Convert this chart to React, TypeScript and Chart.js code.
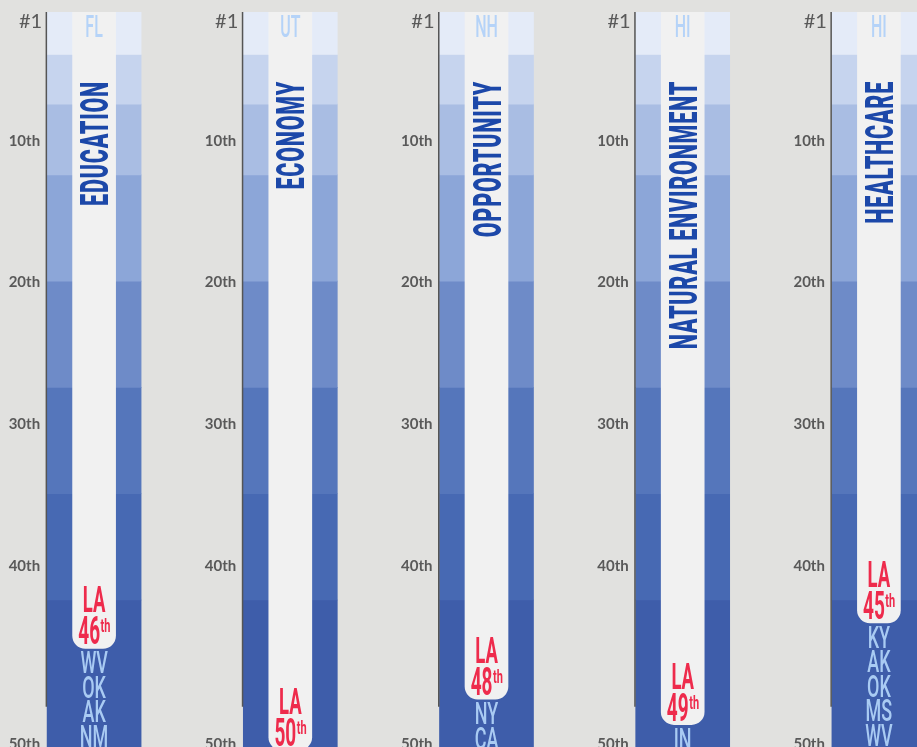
import { useEffect, useRef } from 'react';
import { Chart, registerables, LinearScale } from 'chart.js';

// ---------- data ----------
const CATEGORIES = ['EDUCATION', 'ECONOMY', 'OPPORTUNITY', 'NATURAL ENVIRONMENT', 'HEALTHCARE'];
const FOCUS_STATE = 'LA';
const LA_RANKS = [46, 50, 48, 49, 45];
const TOP_STATES = ['FL', 'UT', 'NH', 'HI', 'HI'];
const STATES_BELOW = [
  ['WV', 'OK', 'AK', 'NM'],
  [],
  ['NY', 'CA'],
  ['IN'],
  ['KY', 'AK', 'OK', 'MS', 'WV'],
];
const BAND_EDGES = [1, 4, 7.5, 12.5, 20, 27.5, 35, 42.5, 50];
const TICK_VALUES = [1, 10, 20, 30, 40, 50];
const TICK_LABELS = ['#1', '10th', '20th', '30th', '40th', '50th'];

// ---------- styles ----------
const BG = '#e1e1df';
const BAND_COLORS = ['#e4ebf8', '#c6d4ee', '#a9bde3', '#8ca6d8', '#6e8bc8', '#5576bb', '#4769b3', '#3e5daa'];
const BAR_COLOR = '#f1f1f1';
const TITLE_COLOR = '#1c48a9';
const RED = '#ee2b4c';
const TOP_STATE_COLOR = '#b5d3f8';
const BELOW_COLOR = '#a9cbf3';
const AXIS_COLOR = '#555555';
const TICK_COLOR = '#595959';
const COL_W = 94;
const BAR_W = 43;
const AXIS_END = 48.3;
const VIEW_H = 747;
const FF = 'Roboto, "Noto Sans", sans-serif';

// rank scale: piecewise-linear mapping (value -> fraction of plot height)
const RANK_SCALE_KNOTS: [number, number][] = [
  [1, 0],
  [42.5, 0.7967],
  [45, 0.8279],
  [50, 1],
];

class RankScale extends LinearScale {
  static id = 'rank';
  static defaults = {};
  getPixelForValue(value: any) {
    const v = +value;
    const k = RANK_SCALE_KNOTS;
    let i = 0;
    while (i < k.length - 2 && v > k[i + 1][0]) i++;
    const [v0, f0] = k[i];
    const [v1, f1] = k[i + 1];
    const f = f0 + ((v - v0) * (f1 - f0)) / (v1 - v0);
    return this.top + f * (this.bottom - this.top);
  }
  getValueForPixel(pixel: number) {
    const f = (pixel - this.top) / (this.bottom - this.top);
    const k = RANK_SCALE_KNOTS;
    let i = 0;
    while (i < k.length - 2 && f > k[i + 1][1]) i++;
    const [v0, f0] = k[i];
    const [v1, f1] = k[i + 1];
    return v0 + ((f - f0) * (v1 - v0)) / (f1 - f0);
  }
}

Chart.register(...registerables, RankScale as any);

function ordinalSuffix(n: number) {
  const m = n % 100;
  if (m >= 11 && m <= 13) return 'th';
  return ['th', 'st', 'nd', 'rd'][n % 10] || 'th';
}

function scaledText(
  ctx: CanvasRenderingContext2D,
  text: string,
  x: number,
  y: number,
  font: string,
  sx: number,
  color: string,
  align: CanvasTextAlign = 'center'
) {
  ctx.save();
  ctx.font = font;
  ctx.fillStyle = color;
  ctx.textAlign = align;
  ctx.textBaseline = 'alphabetic';
  ctx.translate(x, y);
  ctx.scale(sx, 1);
  ctx.fillText(text, 0, 0);
  ctx.restore();
}

const overlayPlugin = {
  id: 'overlay',
  afterDatasetsDraw(chart: any) {
    const { ctx } = chart;
    const xs = chart.scales.x;
    const ys = chart.scales.y;
    const top = ys.getPixelForValue(1);
    CATEGORIES.forEach((title, i) => {
      const cx = xs.getPixelForValue(i);
      const colLeft = cx - COL_W / 2;

      // axis line
      ctx.save();
      ctx.strokeStyle = AXIS_COLOR;
      ctx.lineWidth = 1.5;
      ctx.beginPath();
      ctx.moveTo(colLeft - 0.75, top);
      ctx.lineTo(colLeft - 0.75, ys.getPixelForValue(AXIS_END));
      ctx.stroke();
      ctx.restore();

      // tick labels
      TICK_VALUES.forEach((v, t) => {
        const py = ys.getPixelForValue(v);
        const first = t === 0;
        ctx.save();
        ctx.fillStyle = TICK_COLOR;
        ctx.textAlign = 'right';
        ctx.textBaseline = 'alphabetic';
        ctx.font = first ? '400 20px Lato, sans-serif' : '700 15px Lato, sans-serif';
        const base = first ? py + 16 : Math.min(py + 6, VIEW_H + 2);
        ctx.fillText(TICK_LABELS[t], colLeft - (first ? 5 : 7), base);
        ctx.restore();
      });

      // top-ranked state
      scaledText(ctx, TOP_STATES[i], cx, top + 25, `500 32px ${FF}`, 0.5, TOP_STATE_COLOR);

      // category title (vertical)
      ctx.save();
      ctx.translate(cx, top + 69);
      ctx.rotate(-Math.PI / 2);
      ctx.scale(0.55, 1);
      ctx.font = `900 39px ${FF}`;
      (ctx as any).letterSpacing = '1.5px';
      ctx.fillStyle = TITLE_COLOR;
      ctx.textAlign = 'right';
      ctx.textBaseline = 'alphabetic';
      ctx.fillText(title, 0, 14);
      ctx.restore();

      // LA label at end of bar
      const rank = LA_RANKS[i];
      const bottom = ys.getPixelForValue(rank);
      scaledText(ctx, FOCUS_STATE, cx, bottom - 36, `700 37px ${FF}`, 0.5, RED);
      const num = String(rank);
      const suf = ordinalSuffix(rank);
      ctx.save();
      ctx.font = `700 38px ${FF}`;
      const wNum = ctx.measureText(num).width * 0.5;
      ctx.font = `700 19px ${FF}`;
      const wSuf = ctx.measureText(suf).width * 0.58;
      ctx.restore();
      const start = cx - (wNum + wSuf) / 2;
      scaledText(ctx, num, start, bottom - 4, `700 38px ${FF}`, 0.5, RED, 'left');
      scaledText(ctx, suf, start + wNum + 0.5, bottom - 16, `700 19px ${FF}`, 0.58, RED, 'left');

      // states ranked below
      STATES_BELOW[i].forEach((s, k) => {
        scaledText(ctx, s, cx, bottom + 25 + k * 24.5, `500 31px ${FF}`, 0.58, BELOW_COLOR);
      });
    });
  },
};

export default function App() {
  const ref = useRef<HTMLCanvasElement>(null);
  useEffect(() => {
    const datasets: any[] = [
      {
        label: FOCUS_STATE,
        data: LA_RANKS.map((r) => [TICK_VALUES[0], r]),
        backgroundColor: BAR_COLOR,
        barThickness: BAR_W,
        grouped: false,
        order: 0,
        borderWidth: 0,
        borderSkipped: false,
        borderRadius: { topLeft: 0, topRight: 0, bottomLeft: 13, bottomRight: 13 },
      },
      ...BAND_COLORS.map((c, b) => ({
        label: `band${b}`,
        data: CATEGORIES.map(() => [BAND_EDGES[b], BAND_EDGES[b + 1]]),
        backgroundColor: c,
        barThickness: COL_W,
        grouped: false,
        order: 1,
        borderWidth: 0,
      })),
    ];
    const chart = new Chart(ref.current as HTMLCanvasElement, {
      type: 'bar',
      data: { labels: CATEGORIES, datasets },
      options: {
        responsive: true,
        maintainAspectRatio: false,
        animation: false,
        events: [],
        layout: { padding: { top: 12, bottom: 10, left: 0, right: 0 } },
        plugins: { legend: { display: false }, tooltip: { enabled: false } },
        scales: {
          x: { type: 'category', display: false, offset: true },
          y: { type: 'rank', min: 1, max: 50, display: false } as any,
        },
      },
      plugins: [overlayPlugin],
    } as any);
    return () => chart.destroy();
  }, []);
  return (
    <div
      style={{
        position: 'fixed',
        left: 0,
        top: 0,
        width: 917,
        height: 747,
        overflow: 'hidden',
        background: BG,
      }}
    >
      <div style={{ position: 'absolute', left: -4, top: 0, width: 981, height: 760 }}>
        <canvas ref={ref} />
      </div>
    </div>
  );
}
